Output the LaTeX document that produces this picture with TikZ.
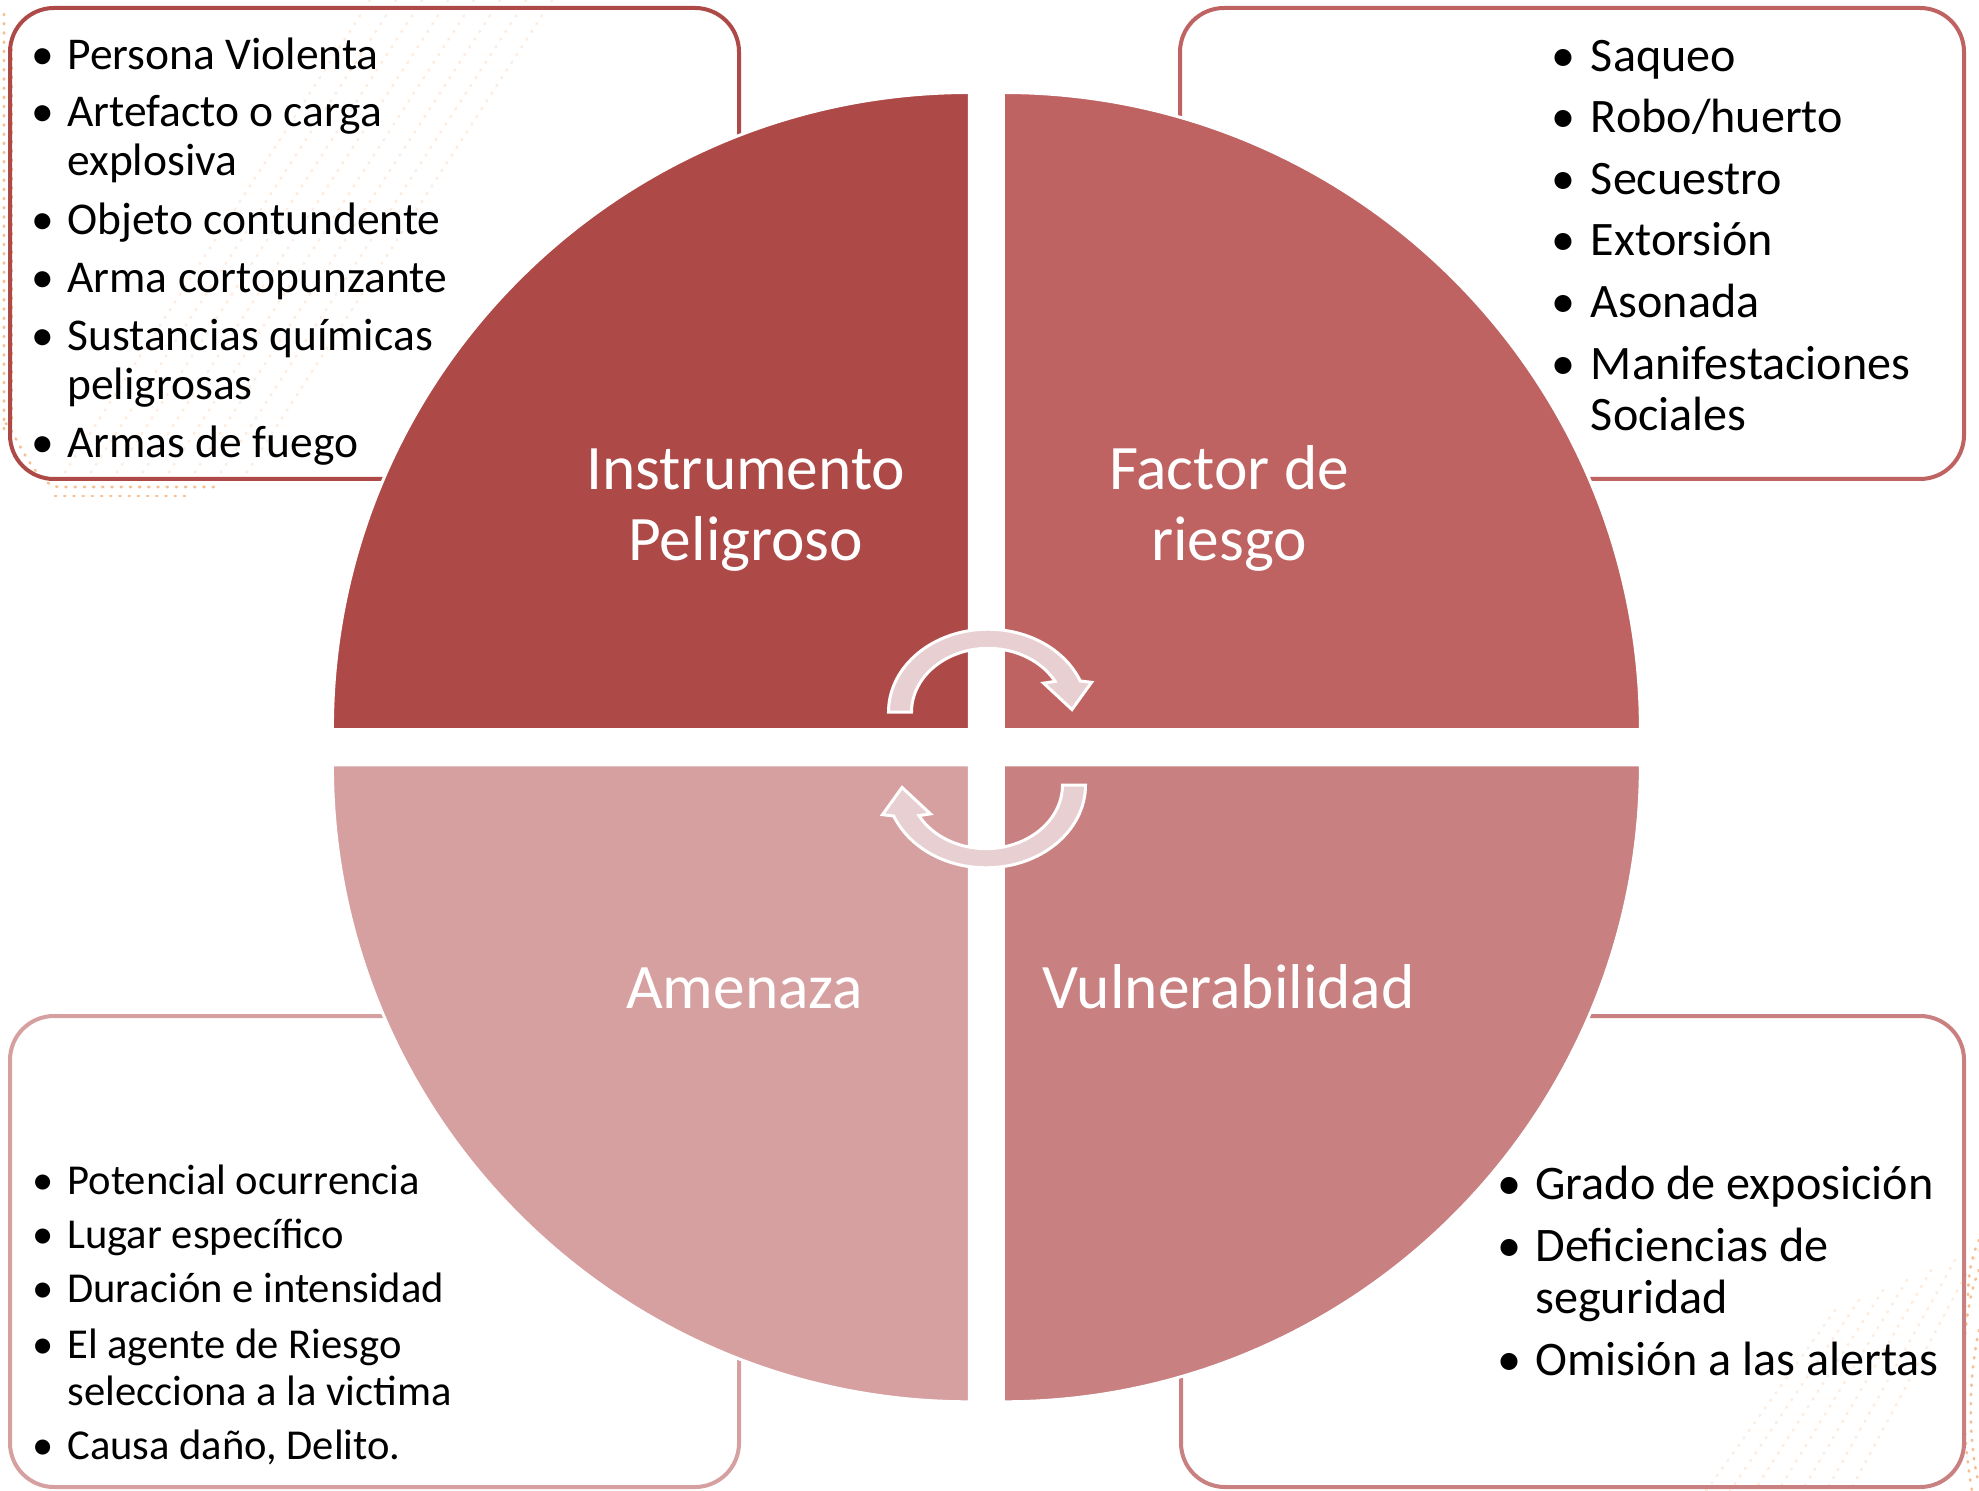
\documentclass[tikz,border=0pt]{standalone}
\usepackage{fontspec}
\setmainfont{Carlito}
\definecolor{qA}{HTML}{AD4947}
\definecolor{qB}{HTML}{BE6361}
\definecolor{qC}{HTML}{C88081}
\definecolor{qD}{HTML}{D6A0A1}
\definecolor{arr}{HTML}{E8CFD1}
\definecolor{dotor}{HTML}{F9BE90}
\definecolor{dotfaint}{HTML}{FDEDE1}
\tikzset{
  quad/.style={draw=white, line width=1.5pt},
  listbox/.style={line width=2pt, rounded corners=22pt},
  bul/.style={anchor=base, inner sep=0pt},
  lst/.style={anchor=base west, inner sep=0pt, text=black},
  fTL/.style={font=\fontsize{22.75}{26}\selectfont},
  fTR/.style={font=\fontsize{24.05}{28}\selectfont},
  fBL/.style={font=\fontsize{21.3}{24}\selectfont},
  fBR/.style={font=\fontsize{24.1}{28}\selectfont},
  title/.style={anchor=base, inner sep=0pt, text=white, font=\fontsize{31.7}{34}\selectfont},
  cyc/.style={fill=arr, draw=white, line width=1.5pt, line join=miter},
  dotsA/.style={draw=dotor, line width=1.3pt, dash pattern=on 0.6pt off 4pt, line cap=round},
  dotsB/.style={draw=dotfaint, line width=1.3pt, dash pattern=on 0.6pt off 4pt, line cap=round}
}
\begin{document}
\begin{tikzpicture}[x=0.5pt, y=-0.5pt]
\useasboundingbox (0,0) rectangle (1979,1491);
\fill[white] (0,0) rectangle (1979,1491);

% faint background decoration
\foreach \k in {0,...,7} {
  \draw[dotsB] (370+\k*26,0) -- (60+\k*26,480);
}
\foreach \k in {0,...,6} {
  \draw[dotsB] (1979-\k*24,1250+\k*10) -- (1850-\k*24,1491);
}
\draw[dotsA] (4,14) -- (4,430) to[out=90,in=180] (60,487) -- (215,487);
\draw[dotsA] (12,40) -- (12,420);
\draw[dotsA] (55,496) -- (185,496);
\draw[dotsA] (1979,1270) .. controls (1958,1320) and (1960,1420) .. (1972,1491);
\draw[dotsA] (1979,1330) .. controls (1968,1380) and (1968,1440) .. (1979,1485);
\draw[dotsA] (1979,1240) .. controls (1970,1260) and (1968,1280) .. (1968,1300);

% boxes
\draw[listbox, draw=qA] (10,8) rectangle (739,479);
\draw[listbox, draw=qB] (1180,8) rectangle (1964,479);
\draw[listbox, draw=qD] (10,1016) rectangle (739,1487);
\draw[listbox, draw=qC] (1181,1016) rectangle (1964,1487);

% quadrants
\fill[qA, quad] (969.4,729.5) -- (332.4,729.5) arc[start angle=180, end angle=270, radius=637] -- cycle;
\fill[qB, quad] (1003.4,729.5) -- (1003.4,92.5) arc[start angle=270, end angle=360, radius=637] -- cycle;
\fill[qC, quad] (1003.4,764.8) -- (1640.4,764.8) arc[start angle=0, end angle=90, radius=637] -- cycle;
\fill[qD, quad] (969.4,764.8) -- (969.4,1401.8) arc[start angle=90, end angle=180, radius=637] -- cycle;

% titles
\node[title] (tIP1) at (745.8,489.5) {Instrumento};
\node[title] (tIP2) at (745.8,561) {Peligroso};
\node[title] (tFR1) at (1229,489.5) {Factor de};
\node[title] (tFR2) at (1229,561) {riesgo};
\node[title] (tAM) at (744.6,1008.4) {Amenaza};
\node[title] (tVU) at (1228.6,1008.4) {Vulnerabilidad};

% cycle arrows
\begin{scope}[shift={(988,712)}, yscale=0.832]
  \path[cyc] (180:76.5) -- (180:99.5) arc[start angle=180, end angle=338, radius=99.5]
    -- (341:109.5) -- (358:84) -- (328:65.5) -- (331.25:76.5)
    arc[start angle=331.25, end angle=180, radius=76.5] -- cycle;
\end{scope}
\begin{scope}[shift={(986,785)}, rotate=180, yscale=0.832]
  \path[cyc] (180:76.5) -- (180:99.5) arc[start angle=180, end angle=338, radius=99.5]
    -- (341:109.5) -- (358:84) -- (328:65.5) -- (331.25:76.5)
    arc[start angle=331.25, end angle=180, radius=76.5] -- cycle;
\end{scope}

% top-left list
\node[bul, fTL] (btl1) at (43,69.5) {\textbullet};
\node[lst, fTL] (tl1) at (67,69.5) {Persona Violenta};
\node[bul, fTL] (btl2) at (43,126.5) {\textbullet};
\node[lst, fTL] (tl2) at (67,126.5) {Artefacto o carga};
\node[lst, fTL] (tl2b) at (67,176) {explosiva};
\node[bul, fTL] (btl3) at (43,234.5) {\textbullet};
\node[lst, fTL] (tl3) at (67,234.5) {Objeto contundente};
\node[bul, fTL] (btl4) at (43,292.5) {\textbullet};
\node[lst, fTL] (tl4) at (67,292.5) {Arma cortopunzante};
\node[bul, fTL] (btl5) at (43,350.5) {\textbullet};
\node[lst, fTL] (tl5) at (67,350.5) {Sustancias químicas};
\node[lst, fTL] (tl5b) at (67,400) {peligrosas};
\node[bul, fTL] (btl6) at (43,458) {\textbullet};
\node[lst, fTL] (tl6) at (67,458) {Armas de fuego};

% top-right list
\node[bul, fTR] (btr1) at (1563.7,71.5) {\textbullet};
\node[lst, fTR] (tr1) at (1590.5,71.5) {Saqueo};
\node[bul, fTR] (btr2) at (1563.7,133) {\textbullet};
\node[lst, fTR] (tr2) at (1590.5,133) {Robo/huerto};
\node[bul, fTR] (btr3) at (1563.7,195) {\textbullet};
\node[lst, fTR] (tr3) at (1590.5,195) {Secuestro};
\node[bul, fTR] (btr4) at (1563.7,256) {\textbullet};
\node[lst, fTR] (tr4) at (1590.5,256) {Extorsión};
\node[bul, fTR] (btr5) at (1563.7,317.5) {\textbullet};
\node[lst, fTR] (tr5) at (1590.5,317.5) {Asonada};
\node[bul, fTR] (btr6) at (1563.7,379.5) {\textbullet};
\node[lst, fTR] (tr6) at (1590.5,379.5) {Manifestaciones};
\node[lst, fTR] (tr6b) at (1590.5,431) {Sociales};

% bottom-left list
\node[bul, fBL] (bbl1) at (43,1194) {\textbullet};
\node[lst, fBL] (bl1) at (67,1194) {Potencial ocurrencia};
\node[bul, fBL] (bbl2) at (43,1248.5) {\textbullet};
\node[lst, fBL] (bl2) at (67,1248.5) {Lugar específico};
\node[bul, fBL] (bbl3) at (43,1302.5) {\textbullet};
\node[lst, fBL] (bl3) at (67,1302.5) {Duración e intensidad};
\node[bul, fBL] (bbl4) at (43,1358) {\textbullet};
\node[lst, fBL] (bl4) at (67,1358) {El agente de Riesgo};
\node[lst, fBL] (bl4b) at (67,1405) {selecciona a la victima};
\node[bul, fBL] (bbl5) at (43,1459) {\textbullet};
\node[lst, fBL] (bl5) at (67,1459) {Causa daño, Delito.};

% bottom-right list
\node[bul, fBR] (bbr1) at (1509.5,1199.5) {\textbullet};
\node[lst, fBR] (br1) at (1535,1199.5) {Grado de exposición};
\node[bul, fBR] (bbr2) at (1509.5,1261.5) {\textbullet};
\node[lst, fBR] (br2) at (1535,1261.5) {Deficiencias de};
\node[lst, fBR] (br2b) at (1535,1313) {seguridad};
\node[bul, fBR] (bbr3) at (1509.5,1375) {\textbullet};
\node[lst, fBR] (br3) at (1535,1375) {Omisión a las alertas};
\end{tikzpicture}
\end{document}
